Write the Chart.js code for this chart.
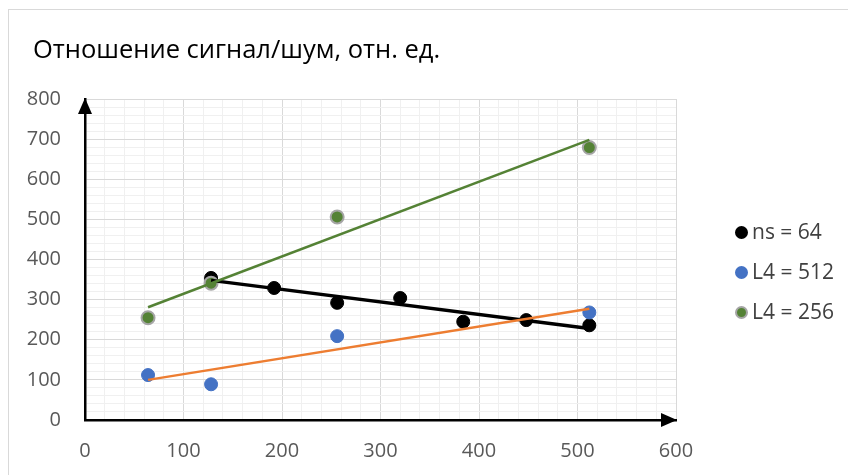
<!DOCTYPE html>
<html>
<head>
<meta charset="utf-8">
<script src="https://cdn.jsdelivr.net/npm/chart.js@4.4.1/dist/chart.umd.min.js"></script>
<style>
  body { margin: 0; background: #fff; font-family: "Open Sans", sans-serif; }
  #wrap { position: relative; width: 848px; height: 475px; overflow: hidden; }
  #frame { position: absolute; left: 8px; top: 9px; width: 900px; height: 520px; border: 1px solid #d9d9d9; }
  #title { position: absolute; left: 33px; top: 31px; font-size: 25.5px; line-height: 34px; color: #000; }
  #legend { position: absolute; left: 735px; top: 217px; }
  .item { position: relative; height: 40px; font-size: 21px; line-height: 29px; color: #404040; padding-left: 17px; white-space: nowrap; }
  .dot { position: absolute; left: 0; top: 8.5px; width: 13px; height: 13px; border-radius: 50%; box-sizing: border-box; }
  canvas { position: absolute; left: 0; top: 0; }
</style>
</head>
<body>
<div id="wrap">
  <div id="frame"></div>
  <canvas id="chart" width="848" height="475"></canvas>
  <div id="title">Отношение сигнал/шум, отн. ед.</div>
  <div id="legend"></div>
</div>
<script>
// DATA
const nsX = [128, 192, 256, 320, 384, 448, 512];
const nsY = [354, 329, 292, 304, 245, 249, 236];
const l512X = [64, 128, 256, 512];
const l512Y = [112, 89, 209, 268];
const l256X = [64, 128, 256, 512];
const l256Y = [255, 341, 506, 679];

// trend lines, endpoints as drawn
const nsTrendX = [128, 512];
const nsTrendY = [348, 228];
const l512TrendX = [64, 512];
const l512TrendY = [100, 277];
const l256TrendX = [64, 512];
const l256TrendY = [281, 698];

const xTickLabels = [0, 100, 200, 300, 400, 500, 600];
const yTickLabels = [0, 100, 200, 300, 400, 500, 600, 700, 800];

const seriesNames = ["ns = 64", "L4 = 512", "L4 = 256"];

const pts = (xs, ys) => xs.map((x, i) => ({ x: x, y: ys[i] }));

// legend (html)
const legendStyles = [
  { bg: "#000000", border: "#000000" },
  { bg: "#4472c4", border: "#4472c4" },
  { bg: "#548235", border: "#a5a5a5" },
];
const legend = document.getElementById("legend");
seriesNames.forEach((name, i) => {
  const d = document.createElement("div");
  d.className = "item";
  d.innerHTML = '<span class="dot" style="background:' + legendStyles[i].bg +
    ';border:2px solid ' + legendStyles[i].border + '"></span>' + name;
  legend.appendChild(d);
});

// arrows at the ends of the axes
const arrows = {
  id: "arrows",
  afterDraw(chart) {
    const { ctx, chartArea: a } = chart;
    ctx.save();
    ctx.fillStyle = "#000";
    ctx.beginPath();
    ctx.moveTo(a.left, a.top - 1);
    ctx.lineTo(a.left - 7, a.top + 15);
    ctx.lineTo(a.left + 7, a.top + 15);
    ctx.closePath();
    ctx.fill();
    ctx.beginPath();
    ctx.moveTo(a.right + 1, a.bottom);
    ctx.lineTo(a.right - 15, a.bottom - 7);
    ctx.lineTo(a.right - 15, a.bottom + 7);
    ctx.closePath();
    ctx.fill();
    ctx.restore();
  },
};

const gridColor = (c) =>
  c.tick && c.tick.value % 100 === 0 ? "#d9d9d9" : "#f0f0f0";

new Chart(document.getElementById("chart"), {
  type: "scatter",
  data: {
    datasets: [
      { label: "tr512", type: "line", data: pts(l512TrendX, l512TrendY), borderColor: "#ed7d31", borderWidth: 2.5, pointRadius: 0, order: 0 },
      { label: "tr256", type: "line", data: pts(l256TrendX, l256TrendY), borderColor: "#548235", borderWidth: 2.5, pointRadius: 0, order: 0 },
      { label: "tr64", type: "line", data: pts(nsTrendX, nsTrendY), borderColor: "#000000", borderWidth: 3.5, pointRadius: 0, order: 0 },
      { label: seriesNames[2], data: pts(l256X, l256Y), backgroundColor: "#548235", borderColor: "#a5a5a5", borderWidth: 2, pointRadius: 6.5, order: 1 },
      { label: seriesNames[1], data: pts(l512X, l512Y), backgroundColor: "#4472c4", borderColor: "#4472c4", borderWidth: 1, pointRadius: 6.5, order: 2 },
      { label: seriesNames[0], data: pts(nsX, nsY), backgroundColor: "#000000", borderColor: "#000000", borderWidth: 1, pointRadius: 6.5, order: 3 },
    ],
  },
  options: {
    responsive: false,
    animation: false,
    devicePixelRatio: 1,
    events: [],
    layout: { padding: { top: 99, right: 172, left: 0, bottom: 0 } },
    plugins: { legend: { display: false }, tooltip: { enabled: false } },
    scales: {
      x: {
        type: "linear",
        min: 0,
        max: 600,
        afterFit: (s) => { s.height = 55; },
        grid: { color: gridColor, lineWidth: 1, drawTicks: false },
        border: { color: "#000", width: 2.5, z: 1 },
        ticks: {
          stepSize: 20,
          autoSkip: false,
          maxRotation: 0,
          padding: 19,
          color: "#595959",
          font: { family: "Open Sans", size: 20 },
          callback: (v) => (xTickLabels.includes(v) ? String(v) : ""),
        },
      },
      y: {
        min: 0,
        max: 800,
        afterFit: (s) => { s.width = 85; },
        grid: { color: gridColor, lineWidth: 1, drawTicks: false },
        border: { color: "#000", width: 2.5, z: 1 },
        ticks: {
          stepSize: 20,
          autoSkip: false,
          padding: 24,
          color: "#595959",
          font: { family: "Open Sans", size: 20 },
          callback: (v) => (yTickLabels.includes(v) ? String(v) : ""),
        },
      },
    },
  },
  plugins: [arrows],
});
</script>
</body>
</html>
